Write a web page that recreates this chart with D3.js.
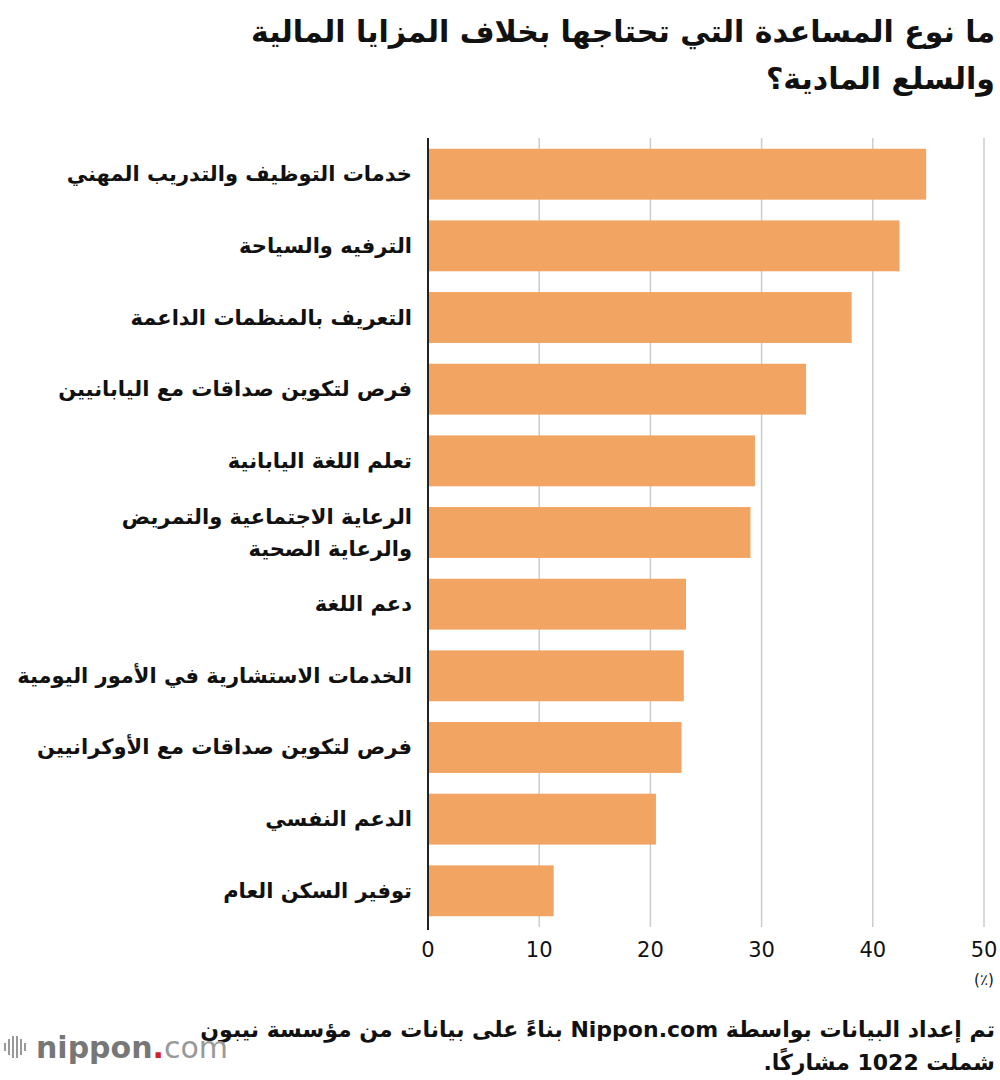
<!DOCTYPE html>
<html><head><meta charset="utf-8">
<script src="https://cdn.jsdelivr.net/npm/d3@7"></script>
<style>
body{margin:0;background:#fff}
text{font-family:"DejaVu Sans","Noto Sans",sans-serif}
</style></head>
<body><svg width="1000" height="1080"></svg>
<script>
var categories = [
  ["خدمات التوظيف والتدريب المهني"],
  ["الترفيه والسياحة"],
  ["التعريف بالمنظمات الداعمة"],
  ["فرص لتكوين صداقات مع اليابانيين"],
  ["تعلم اللغة اليابانية"],
  ["الرعاية الاجتماعية والتمريض", "والرعاية الصحية"],
  ["دعم اللغة"],
  ["الخدمات الاستشارية في الأمور اليومية"],
  ["فرص لتكوين صداقات مع الأوكرانيين"],
  ["الدعم النفسي"],
  ["توفير السكن العام"]
];
var values = [44.8, 42.4, 38.1, 34.0, 29.4, 29.0, 23.2, 23.0, 22.8, 20.5, 11.3];
var ticks = [0, 10, 20, 30, 40, 50];

var svg = d3.select("svg");

var x = d3.scaleLinear().domain([0, 50]).range([428, 984]);
var y = d3.scaleBand().domain(d3.range(values.length)).range([138, 927]).paddingInner(0.29).paddingOuter(0.15);

// title
svg.append("g").selectAll("text")
  .data(["ما نوع المساعدة التي تحتاجها بخلاف المزايا المالية", "والسلع المادية؟"])
  .join("text")
  .attr("x", 995).attr("y", (d, i) => 42 + i * 47)
  .attr("direction", "rtl").attr("text-anchor", "start")
  .attr("font-size", 30).attr("font-weight", "bold").attr("fill", "#111")
  .text(d => d);

// grid
svg.append("g").selectAll("line")
  .data(ticks.slice(1))
  .join("line")
  .attr("x1", d => x(d)).attr("x2", d => x(d))
  .attr("y1", 138).attr("y2", 927)
  .attr("stroke", "#ccc").attr("stroke-width", 1.5);

// bars
svg.append("g").selectAll("rect")
  .data(values)
  .join("rect")
  .attr("x", x(0))
  .attr("y", (d, i) => y(i))
  .attr("width", d => x(d) - x(0))
  .attr("height", y.bandwidth())
  .attr("fill", "#f2a462");

// baseline
svg.append("line").attr("x1", x(0)).attr("x2", x(0)).attr("y1", 138).attr("y2", 930)
  .attr("stroke", "#222").attr("stroke-width", 2);

// category labels
var lab = svg.append("g").selectAll("g").data(categories).join("g");
lab.selectAll("text")
  .data((d, i) => d.map((t, j) => ({t: t, j: j, n: d.length, i: i})))
  .join("text")
  .attr("x", 412)
  .attr("y", d => y(d.i) + y.bandwidth() / 2 + 7 + (d.j - (d.n - 1) / 2) * 32)
  .attr("direction", "rtl").attr("text-anchor", "start")
  .attr("font-size", 21).attr("font-weight", "bold").attr("fill", "#111")
  .text(d => d.t);

// x axis ticks
svg.append("g").selectAll("text")
  .data(ticks)
  .join("text")
  .attr("x", d => x(d)).attr("y", 957)
  .attr("text-anchor", "middle").attr("font-size", 21).attr("fill", "#111")
  .text(d => d);
svg.append("text").attr("x", x(50)).attr("y", 985).attr("text-anchor", "middle")
  .attr("font-size", 15).attr("fill", "#111").text("(٪)");

// footer
svg.append("g").selectAll("text")
  .data(["تم إعداد البيانات بواسطة Nippon.com بناءً على بيانات من مؤسسة نيبون", "شملت 1022 مشاركًا."])
  .join("text")
  .attr("x", 995).attr("y", (d, i) => 1037 + i * 33)
  .attr("direction", "rtl").attr("text-anchor", "start")
  .attr("font-size", 22).attr("font-weight", "bold").attr("fill", "#111")
  .text(d => d);

// logo
var logo = svg.append("g");
logo.selectAll("rect").data([0, 1, 2, 3, 4, 5]).join("rect")
  .attr("x", d => 4 + d * 4).attr("y", d => 1047 - [4, 8, 11, 11, 8, 4][d])
  .attr("width", 2).attr("height", d => [4, 8, 11, 11, 8, 4][d] * 2)
  .attr("fill", "#999");
var lt = logo.append("text").attr("x", 36).attr("y", 1058).attr("font-size", 30);
lt.append("tspan").attr("fill", "#777").attr("font-weight", "bold").text("nippon");
lt.append("tspan").attr("fill", "#d4232a").attr("font-weight", "bold").text(".");
lt.append("tspan").attr("fill", "#999").text("com");
</script></body></html>
